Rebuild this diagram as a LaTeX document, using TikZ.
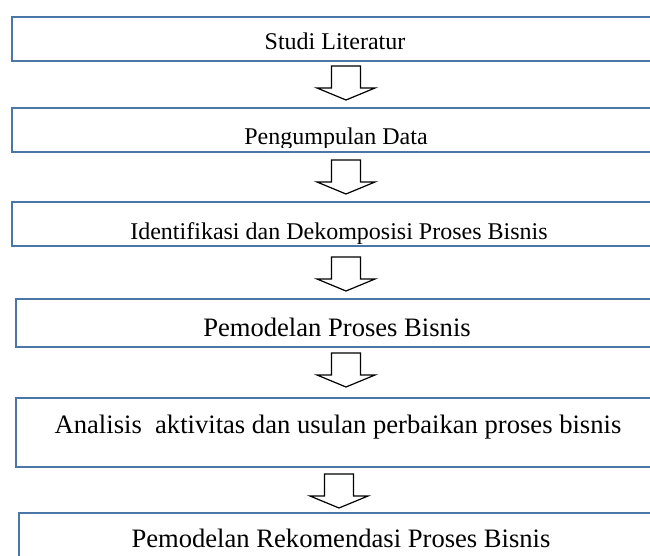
\documentclass[tikz,border=0pt]{standalone}
\usepackage{fontspec}
\setmainfont{Liberation Serif}
\usetikzlibrary{calc}
\definecolor{boxline}{HTML}{4A76A8}
\tikzset{
  x=1pt, y=-1pt,
  stepbox/.style={draw=boxline, line width=2.4pt, rectangle, inner sep=0pt, anchor=north west},
  steptxt/.style={font=\fontsize{#1}{#1}\selectfont, inner sep=0pt, anchor=base},
  blockarrow/.style={draw=black, line width=1.2pt, fill=white, line join=miter}
}
% hollow block arrow between two boxes: #1 upper box, #2 lower box,
% #3 centre x (pt), #4 gap between tip and lower box (pt)
\newcommand{\flowarrow}[4]{%
  \draw[blockarrow] let \p2=(#2.north) in
    (#3pt-14.5pt,\y2+#4pt+34pt) -- (#3pt+14.5pt,\y2+#4pt+34pt)
    -- (#3pt+14.5pt,\y2+#4pt+12pt) -- (#3pt+29pt,\y2+#4pt+12pt)
    -- (#3pt,\y2+#4pt) -- (#3pt-29pt,\y2+#4pt+12pt)
    -- (#3pt-14.5pt,\y2+#4pt+12pt) -- cycle;}
\begin{document}
\begin{tikzpicture}
\useasboundingbox (0,0) rectangle (650,556);
\clip (0,0) rectangle (650,556);

% process boxes (right side runs past the page)
\node[stepbox, minimum width=660pt, minimum height=44pt] (b1) at (11,16) {};
\node[stepbox, minimum width=660pt, minimum height=44pt] (b2) at (11,107) {};
\node[stepbox, minimum width=660pt, minimum height=44pt] (b3) at (11,201) {};
\node[stepbox, minimum width=660pt, minimum height=48pt] (b4) at (15,298) {};
\node[stepbox, minimum width=660pt, minimum height=69pt] (b5) at (15,397) {};
\node[stepbox, minimum width=660pt, minimum height=70pt] (b6) at (18,512) {};

% labels (the two lower ones in the top group are cut off at the box edge)
\node[steptxt=24] (t1) at (335,50) {Studi Literatur};
\begin{scope}
  \clip (0,100) rectangle (650,148);
  \node[steptxt=24] (t2) at (336,145) {Pengumpulan Data};
\end{scope}
\begin{scope}
  \clip (0,195) rectangle (650,243);
  \node[steptxt=24] (t3) at (339,239) {Identifikasi dan Dekomposisi Proses Bisnis};
\end{scope}
\node[steptxt=26.6] (t4) at (337,336) {Pemodelan Proses Bisnis};
\node[steptxt=26.6] (t5) at (338,433) {Analisis \ aktivitas dan usulan perbaikan proses bisnis};
\node[steptxt=26.6] (t6) at (341,547) {Pemodelan Rekomendasi Proses Bisnis};

% connectors
\flowarrow{b1}{b2}{346}{7}
\flowarrow{b2}{b3}{346}{7}
\flowarrow{b3}{b4}{346}{7}
\flowarrow{b4}{b5}{346}{10}
\flowarrow{b5}{b6}{339}{4}
\end{tikzpicture}
\end{document}
